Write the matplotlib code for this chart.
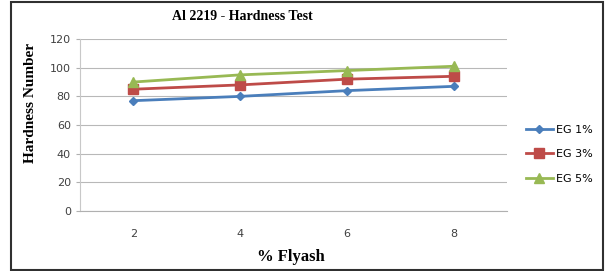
import matplotlib.pyplot as plt
from matplotlib.patches import Rectangle

flyash = ["2", "4", "6", "8"]
eg1 = [77, 80, 84, 87]
eg3 = [85, 88, 92, 94]
eg5 = [90, 95, 98, 101]

fig = plt.figure(figsize=(6.05, 2.71), dpi=100)
ax = fig.add_axes([0.132, 0.221, 0.706, 0.635])

x = range(len(flyash))
ax.plot(x, eg1, color="#4a7ebb", marker="D", markersize=4.5, lw=2, label="EG 1%")
ax.plot(x, eg3, color="#be4b48", marker="s", markersize=7, lw=2, label="EG 3%")
ax.plot(x, eg5, color="#98b954", marker="^", markersize=7, lw=2, label="EG 5%")

ax.set_xlim(-0.5, 3.5)
ax.set_ylim(0, 120)
ax.set_yticks(range(0, 121, 20))
ax.set_xticks(list(x))
ax.set_xticklabels(flyash)
ax.grid(axis="y", color="#b8b8b8", lw=0.8)
ax.set_axisbelow(True)
for s in ["top", "right"]:
    ax.spines[s].set_visible(False)
ax.spines["left"].set_color("#c8c8c8")
ax.spines["bottom"].set_color("#b0b0b0")
ax.tick_params(axis="x", length=0, pad=13, labelsize=8, colors="#404040")
ax.tick_params(axis="y", length=3, color="#b0b0b0", labelsize=8, colors="#404040")

fig.text(0.40, 0.94, "Al 2219 - Hardness Test", ha="center", va="center",
         family="Liberation Serif", weight="bold", fontsize=10)
fig.text(0.05, 0.62, "Hardness Number", rotation=90, ha="center", va="center",
         family="Liberation Serif", weight="bold", fontsize=11)
fig.text(0.48, 0.05, "% Flyash", ha="center", va="center",
         family="Liberation Serif", weight="bold", fontsize=12)

ax.legend(loc="center left", bbox_to_anchor=(1.02, 0.33), frameon=False,
          fontsize=8, handlelength=2.5, handletextpad=0.2, labelspacing=1.3,
          bbox_transform=ax.transAxes)

fig.patches.append(Rectangle((11 / 605, 1 / 271), 592 / 605, 268 / 271,
                             transform=fig.transFigure, fill=False,
                             edgecolor="#303030", lw=1.5))

fig.savefig("out.png", dpi=100)
